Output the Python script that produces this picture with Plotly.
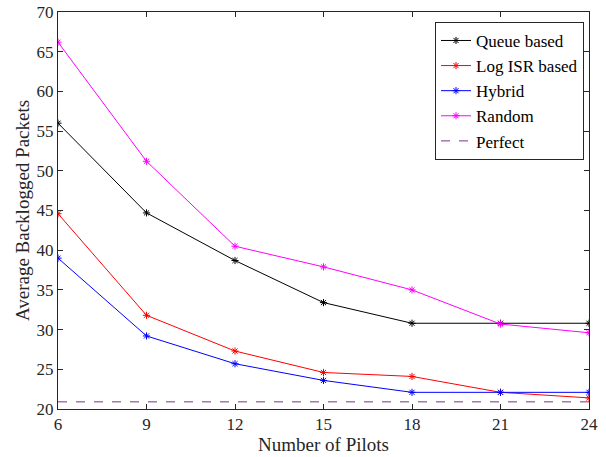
import plotly.graph_objects as go

pilots = [6, 9, 12, 15, 18, 21, 24]
queue_based = [56.0, 44.7, 38.7, 33.4, 30.8, 30.8, 30.8]
log_isr_based = [44.6, 31.8, 27.3, 24.6, 24.1, 22.1, 21.4]
hybrid = [39.0, 29.2, 25.7, 23.6, 22.1, 22.1, 22.1]
random_sel = [66.2, 51.2, 40.5, 37.9, 35.0, 30.7, 29.6]
perfect = [20.9] * len(pilots)

series = [
    ("Queue based", queue_based, "black"),
    ("Log ISR based", log_isr_based, "red"),
    ("Hybrid", hybrid, "blue"),
    ("Random", random_sel, "magenta"),
]

FONT = "Liberation Serif"

fig = go.Figure()
for name, vals, col in series:
    fig.add_trace(go.Scatter(
        x=pilots, y=vals, name=name, mode="lines+markers",
        line=dict(color=col, width=1),
        marker=dict(symbol="asterisk-open", size=6, color=col, line=dict(color=col, width=1)),
    ))
fig.add_trace(go.Scatter(
    x=pilots, y=perfect, name="Perfect", mode="lines",
    line=dict(color="#7E2F8E", width=1, dash="dash"),
))

axis_common = dict(
    showline=True, linecolor="#262626", linewidth=1, mirror="allticks",
    ticks="inside", ticklen=5, tickcolor="#262626", showgrid=False, zeroline=False,
    automargin=False,
    tickfont=dict(family=FONT, size=17, color="#262626"),
)
fig.update_xaxes(range=[6, 24], tickvals=pilots, title=dict(text="Number of Pilots", font=dict(family=FONT, size=19, color="#262626"), standoff=4), **axis_common)
fig.update_yaxes(range=[20, 70], dtick=5, title=dict(text="Average Backlogged Packets", font=dict(family=FONT, size=19, color="#262626"), standoff=1), **axis_common)

fig.update_layout(
    width=606, height=457,
    margin=dict(l=58, r=17, t=12, b=48),
    plot_bgcolor="white", paper_bgcolor="white",
    font=dict(family=FONT, color="black"),
    legend=dict(
        x=0.71, y=0.975, xanchor="left", yanchor="top",
        bgcolor="white", bordercolor="#262626", borderwidth=1,
        font=dict(family=FONT, size=17, color="black"),
        tracegroupgap=0, itemwidth=30,
    ),
)
fig.write_html("out.html", config={"displayModeBar": False},
               post_script="document.body.style.margin='0';")
